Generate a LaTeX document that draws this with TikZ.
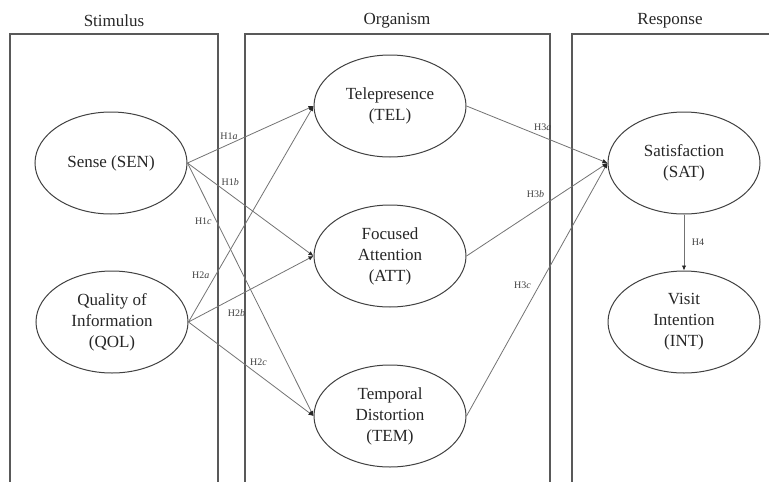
\documentclass[tikz,border=0pt]{standalone}
\usepackage{fontspec}
\setmainfont{Liberation Serif}
\usetikzlibrary{shapes.geometric,arrows.meta}
\tikzset{construct/.style={ellipse, draw=black!75, line width=1pt, minimum width=152pt, minimum height=102pt, inner sep=0pt, align=center, font=\fontsize{17}{21}\selectfont, text=black!85},
hyp/.style={draw=black!55, line width=0.8pt, -{Latex[length=5pt,width=4.5pt,color=black!85]}},
hlabel/.style={font=\fontsize{10}{12}\selectfont, text=black!75, inner sep=0pt},
stage/.style={draw=black!65, line width=1.4pt},
stagename/.style={font=\fontsize{17}{21}\selectfont, text=black!85}}

\begin{document}
\begin{tikzpicture}[x=1pt,y=-1pt]

    \useasboundingbox (0,0) rectangle (769,482);
    \clip (0,0) rectangle (769,482);

    \draw[stage] (10,34) rectangle (218,500);
    \draw[stage] (245,34) rectangle (550,500);
    \draw[stage] (572,34) rectangle (790,500);

    \node[stagename] (stim) at (114,21) {Stimulus};
    \node[stagename] (orga) at (397,21) {Organism};
    \node[stagename] (resp) at (670,21) {Response};

    \node[construct] (sen) at (111,163) {Sense (SEN)};
    \node[construct] (qol) at (112,322) {Quality of\\Information\\(QOL)};
    \node[construct] (tel) at (390,106) {Telepresence\\(TEL)};
    \node[construct] (att) at (390,256) {Focused\\Attention\\(ATT)};
    \node[construct] (tem) at (390,416) {Temporal\\Distortion\\(TEM)};
    \node[construct] (sat) at (684,163) {Satisfaction\\(SAT)};
    \node[construct] (int) at (684,322) {Visit\\Intention\\(INT)};

    \draw[hyp] (sen.east) -- node[hlabel,pos=.33,yshift=8pt] {H1\textit{a}} (tel.west);
    \draw[hyp] (sen.east) -- node[hlabel,pos=.34,yshift=13pt] {H1\textit{b}} (att.west);
    \draw[hyp] (sen.east) -- node[hlabel,pos=.229,xshift=-13pt] {H1\textit{c}} (tem.west);
    \draw[hyp] (qol.east) -- node[hlabel,pos=.218,xshift=-15pt] {H2\textit{a}} (tel.west);
    \draw[hyp] (qol.east) -- node[hlabel,pos=.384,yshift=-16pt] {H2\textit{b}} (att.west);
    \draw[hyp] (qol.east) -- node[hlabel,pos=.56,yshift=12pt] {H2\textit{c}} (tem.west);
    \draw[hyp] (tel.east) -- node[hlabel,pos=.54,yshift=10pt] {H3\textit{a}} (sat.west);
    \draw[hyp] (att.east) -- node[hlabel,pos=.49,yshift=16pt] {H3\textit{b}} (sat.west);
    \draw[hyp] (tem.east) -- node[hlabel,pos=.518,xshift=-17pt] {H3\textit{c}} (sat.west);
    \draw[hyp] (sat.south) -- node[hlabel,pos=.5,xshift=14pt] {H4} (int.north);

\end{tikzpicture}
\end{document}
